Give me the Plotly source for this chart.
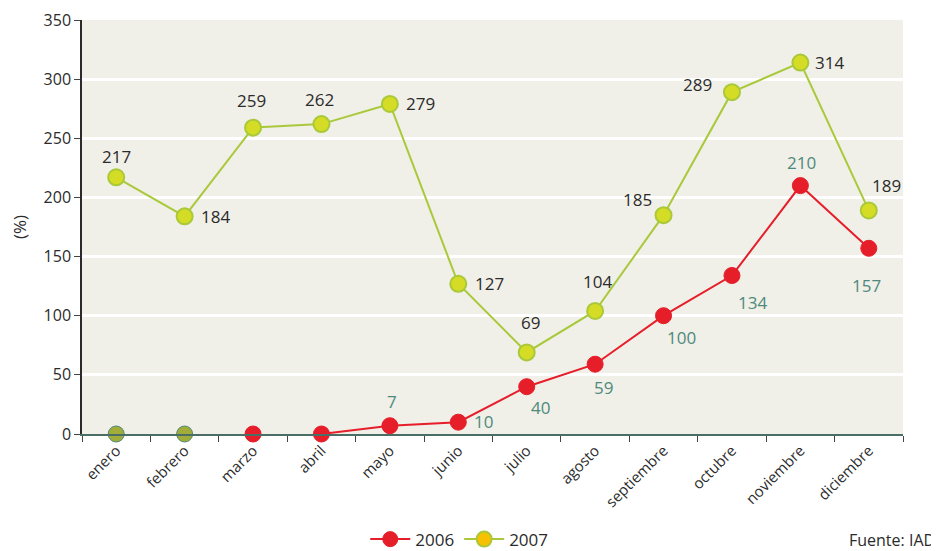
import plotly.graph_objects as go

months = ["enero", "febrero", "marzo", "abril", "mayo", "junio", "julio",
          "agosto", "septiembre", "octubre", "noviembre", "diciembre"]
v2006 = [0, 0, 0, 0, 7, 10, 40, 59, 100, 134, 210, 157]
v2007 = [217, 184, 259, 262, 279, 127, 69, 104, 185, 289, 314, 189]
y_ticks = [0, 50, 100, 150, 200, 250, 300, 350]

# label offsets (px) for value annotations
off2007 = [(0, 21), (31, 0), (-2, 27), (-2, 25), (31, 0), (31, 0), (4, 30),
           (2, 29), (-26, 16), (-34, 8), (29, 0), (18, 25)]
off2006 = [None, None, None, None, (2, 24), (25, 1), (14, -21), (8, -23),
           (18, -22), (21, -27), (1, 23), (-2, -37)]

RED = "#e61e2a"
GREEN_LINE = "#a9c93a"
GREEN_FILL = "#d5dc25"
TEAL = "#4e8a7c"
FONT = "Open Sans"

fig = go.Figure()

# 2007 line
fig.add_trace(go.Scatter(
    x=months, y=v2007, mode="lines+markers", showlegend=False,
    line=dict(color=GREEN_LINE, width=2),
    marker=dict(size=16, color=GREEN_FILL, line=dict(color=GREEN_LINE, width=2)),
))

# 2006 line (drawn from abril on; earlier part lies on the axis)
fig.add_trace(go.Scatter(
    x=months[3:], y=v2006[3:], mode="lines", showlegend=False,
    line=dict(color=RED, width=2),
))
marker_cols = ["#a2ad39", "#a2ad39"] + [RED] * 10
marker_lines = [TEAL, TEAL] + [RED] * 10
fig.add_trace(go.Scatter(
    x=months, y=v2006, mode="markers", showlegend=False, cliponaxis=False,
    marker=dict(size=16, color=marker_cols, line=dict(color=marker_lines, width=1)),
))

# legend entries
fig.add_trace(go.Scatter(
    x=[None], y=[None], mode="lines+markers", name="2006",
    line=dict(color=RED, width=2),
    marker=dict(size=15, color=RED, line=dict(color=RED, width=1)),
))
fig.add_trace(go.Scatter(
    x=[None], y=[None], mode="lines+markers", name="2007",
    line=dict(color=GREEN_LINE, width=2),
    marker=dict(size=15, color="#f7c000", line=dict(color=GREEN_LINE, width=2)),
))

annotations = []
for m, v, o in zip(months, v2007, off2007):
    annotations.append(dict(x=m, y=v, text=str(v), showarrow=False,
                            xshift=o[0], yshift=o[1],
                            font=dict(family=FONT, size=17, color="#2b2b2b")))
for m, v, o in zip(months, v2006, off2006):
    if o is None:
        continue
    annotations.append(dict(x=m, y=v, text=str(v), showarrow=False,
                            xshift=o[0], yshift=o[1],
                            font=dict(family=FONT, size=17, color=TEAL)))
annotations.append(dict(x=1.0, y=-0.255, xref="paper", yref="paper",
                        xanchor="right", yanchor="middle", xshift=34,
                        text="Fuente: IAD", showarrow=False,
                        font=dict(family=FONT, size=16, color="#2b2b2b")))

fig.update_layout(
    width=931, height=543,
    margin=dict(l=74, r=36, t=12, b=117, autoexpand=False),
    paper_bgcolor="white",
    plot_bgcolor="#f0efe8",
    font=dict(family=FONT, size=16, color="#2b2b2b"),
    annotations=annotations,
    legend=dict(orientation="h", x=0.345, xanchor="left", y=-0.255,
                yanchor="middle", font=dict(family=FONT, size=17, color="#2b2b2b"),
                itemwidth=40, tracegroupgap=0, bgcolor="rgba(0,0,0,0)"),
)
fig.update_xaxes(
    type="category", categoryorder="array", categoryarray=months,
    showgrid=False, showline=True, linecolor="#4a6e66", linewidth=2,
    ticks="outside", tickson="boundaries", ticklen=6, tickcolor="#444",
    tickangle=-45, tickfont=dict(family=FONT, size=15, color="#2b2b2b"),
    range=[-0.5, 11.5], automargin=False,
)
fig.update_yaxes(
    range=[0, 350], tickvals=y_ticks, showgrid=True, gridcolor="white",
    gridwidth=3, zeroline=False, showline=True, linecolor="#2b2b2b",
    linewidth=1.5, ticks="outside", ticklen=6, tickcolor="#444",
    tickfont=dict(family=FONT, size=16, color="#2b2b2b"), automargin=False,
    title=dict(text="(%)", font=dict(family=FONT, size=17, color="#2b2b2b"),
               standoff=22),
)

fig.write_html("out.html")
